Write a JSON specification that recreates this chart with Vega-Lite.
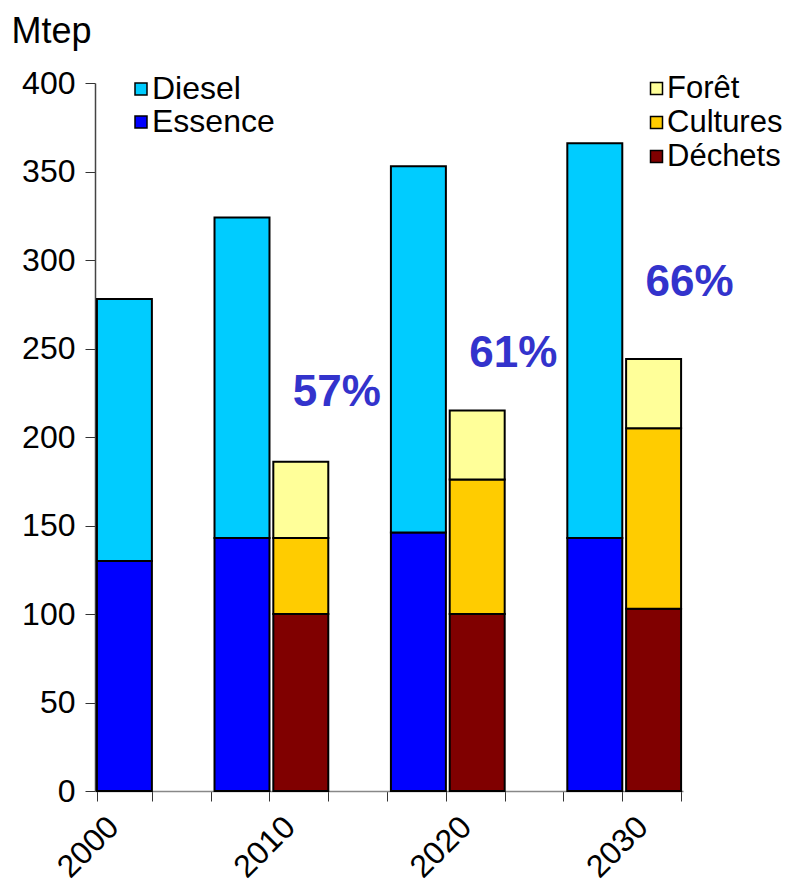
{
  "$schema": "https://vega.github.io/schema/vega-lite/v6.json",
  "autosize": "none",
  "width": 588,
  "height": 708,
  "padding": {"left": 95, "top": 83, "right": 113, "bottom": 99},
  "background": "white",
  "config": {
    "font": "Liberation Sans",
    "view": {"stroke": null},
    "legend": {"labelFont": "Liberation Sans"}
  },
  "datasets": {
    "carburants": [
      {"barre": "2000 carburants", "type": "Essence", "Mtep": 130},
      {"barre": "2000 carburants", "type": "Diesel", "Mtep": 148},
      {"barre": "2010 carburants", "type": "Essence", "Mtep": 143},
      {"barre": "2010 carburants", "type": "Diesel", "Mtep": 181},
      {"barre": "2020 carburants", "type": "Essence", "Mtep": 146},
      {"barre": "2020 carburants", "type": "Diesel", "Mtep": 207},
      {"barre": "2030 carburants", "type": "Essence", "Mtep": 143},
      {"barre": "2030 carburants", "type": "Diesel", "Mtep": 223}
    ],
    "biomasse": [
      {"barre": "2010 biomasse", "type": "Déchets", "Mtep": 100},
      {"barre": "2010 biomasse", "type": "Cultures", "Mtep": 43},
      {"barre": "2010 biomasse", "type": "Forêt", "Mtep": 43},
      {"barre": "2020 biomasse", "type": "Déchets", "Mtep": 100},
      {"barre": "2020 biomasse", "type": "Cultures", "Mtep": 76},
      {"barre": "2020 biomasse", "type": "Forêt", "Mtep": 39},
      {"barre": "2030 biomasse", "type": "Déchets", "Mtep": 103},
      {"barre": "2030 biomasse", "type": "Cultures", "Mtep": 102},
      {"barre": "2030 biomasse", "type": "Forêt", "Mtep": 39}
    ],
    "parts": [
      {"barre": "2010 biomasse", "Mtep": 225, "texte": "57%"},
      {"barre": "2020 biomasse", "Mtep": 247, "texte": "61%"},
      {"barre": "2030 biomasse", "Mtep": 287, "texte": "66%"}
    ]
  },
  "encoding": {
    "x": {
      "field": "barre",
      "type": "nominal",
      "sort": null,
      "scale": {
        "domain": ["2000 carburants", "vide 1", "2010 carburants", "2010 biomasse", "vide 2", "2020 carburants", "2020 biomasse", "vide 3", "2030 carburants", "2030 biomasse"],
        "paddingInner": 0.065,
        "paddingOuter": 0.0325
      },
      "axis": {
        "title": null,
        "tickBand": "extent",
        "labelAngle": -45,
        "labelFontSize": 32,
        "labelColor": "black",
        "labelPadding": 10,
        "labelOffset": -22,
        "labelOverlap": false,
        "labelExpr": "indexof(['2000 carburants','2010 biomasse','2020 biomasse','2030 biomasse'], datum.value) >= 0 ? slice(datum.value, 0, 4) : ''",
        "tickSize": 10,
        "tickColor": "#333",
        "domainColor": "#888",
        "domainWidth": 1.5
      }
    }
  },
  "layer": [
    {
      "data": {"name": "carburants"},
      "transform": [{"calculate": "indexof(['Essence','Diesel'], datum.type)", "as": "rang"}],
      "mark": {"type": "bar", "stroke": "black", "strokeWidth": 2},
      "encoding": {
        "y": {
          "field": "Mtep",
          "type": "quantitative",
          "stack": "zero",
          "scale": {"domain": [0, 400], "nice": false},
          "axis": {
            "values": [0, 50, 100, 150, 200, 250, 300, 350, 400],
            "grid": false,
            "tickSize": 10,
            "tickColor": "#333",
            "domainColor": "#444",
            "domainWidth": 1.5,
            "labelFontSize": 32,
            "labelColor": "black",
            "labelPadding": 10,
            "title": "Mtep",
            "titleFont": "Liberation Sans",
            "titleFontSize": 36,
            "titleFontWeight": "normal",
            "titleColor": "black",
            "titleAngle": 0,
            "titleAlign": "left",
            "titleBaseline": "alphabetic",
            "titleX": -84,
            "titleY": -41
          }
        },
        "order": {"field": "rang", "type": "quantitative", "sort": "ascending"},
        "color": {
          "field": "type",
          "type": "nominal",
          "scale": {"domain": ["Diesel", "Essence"], "range": ["#00CCFF", "#0000FF"]},
          "legend": {
            "orient": "none",
            "legendX": 30,
            "legendY": -10,
            "title": null,
            "symbolType": "square",
            "symbolSize": 144,
            "symbolStrokeColor": "black",
            "symbolStrokeWidth": 1.5,
            "labelFontSize": 32,
            "labelColor": "black",
            "labelOffset": -5,
            "rowPadding": 1
          }
        }
      }
    },
    {
      "data": {"name": "biomasse"},
      "transform": [{"calculate": "indexof(['Déchets','Cultures','Forêt'], datum.type)", "as": "rang"}],
      "mark": {"type": "bar", "stroke": "black", "strokeWidth": 2},
      "encoding": {
        "y": {"field": "Mtep", "type": "quantitative", "stack": "zero"},
        "order": {"field": "rang", "type": "quantitative", "sort": "ascending"},
        "color": {
          "field": "type",
          "type": "nominal",
          "scale": {"domain": ["Forêt", "Cultures", "Déchets"], "range": ["#FFFF99", "#FFCC00", "#800000"]},
          "legend": {
            "orient": "none",
            "legendX": 546,
            "legendY": -10,
            "title": null,
            "symbolType": "square",
            "symbolSize": 144,
            "symbolStrokeColor": "black",
            "symbolStrokeWidth": 1.5,
            "labelFontSize": 31,
            "labelColor": "black",
            "labelOffset": -5,
            "rowPadding": 2
          }
        }
      }
    },
    {
      "data": {"name": "parts"},
      "mark": {"type": "text", "fontSize": 44, "fontWeight": "bold", "color": "#3333CC", "align": "left", "baseline": "middle", "dx": -8},
      "encoding": {
        "y": {"field": "Mtep", "type": "quantitative"},
        "text": {"field": "texte", "type": "nominal"}
      }
    }
  ],
  "resolve": {"scale": {"color": "independent"}}
}
